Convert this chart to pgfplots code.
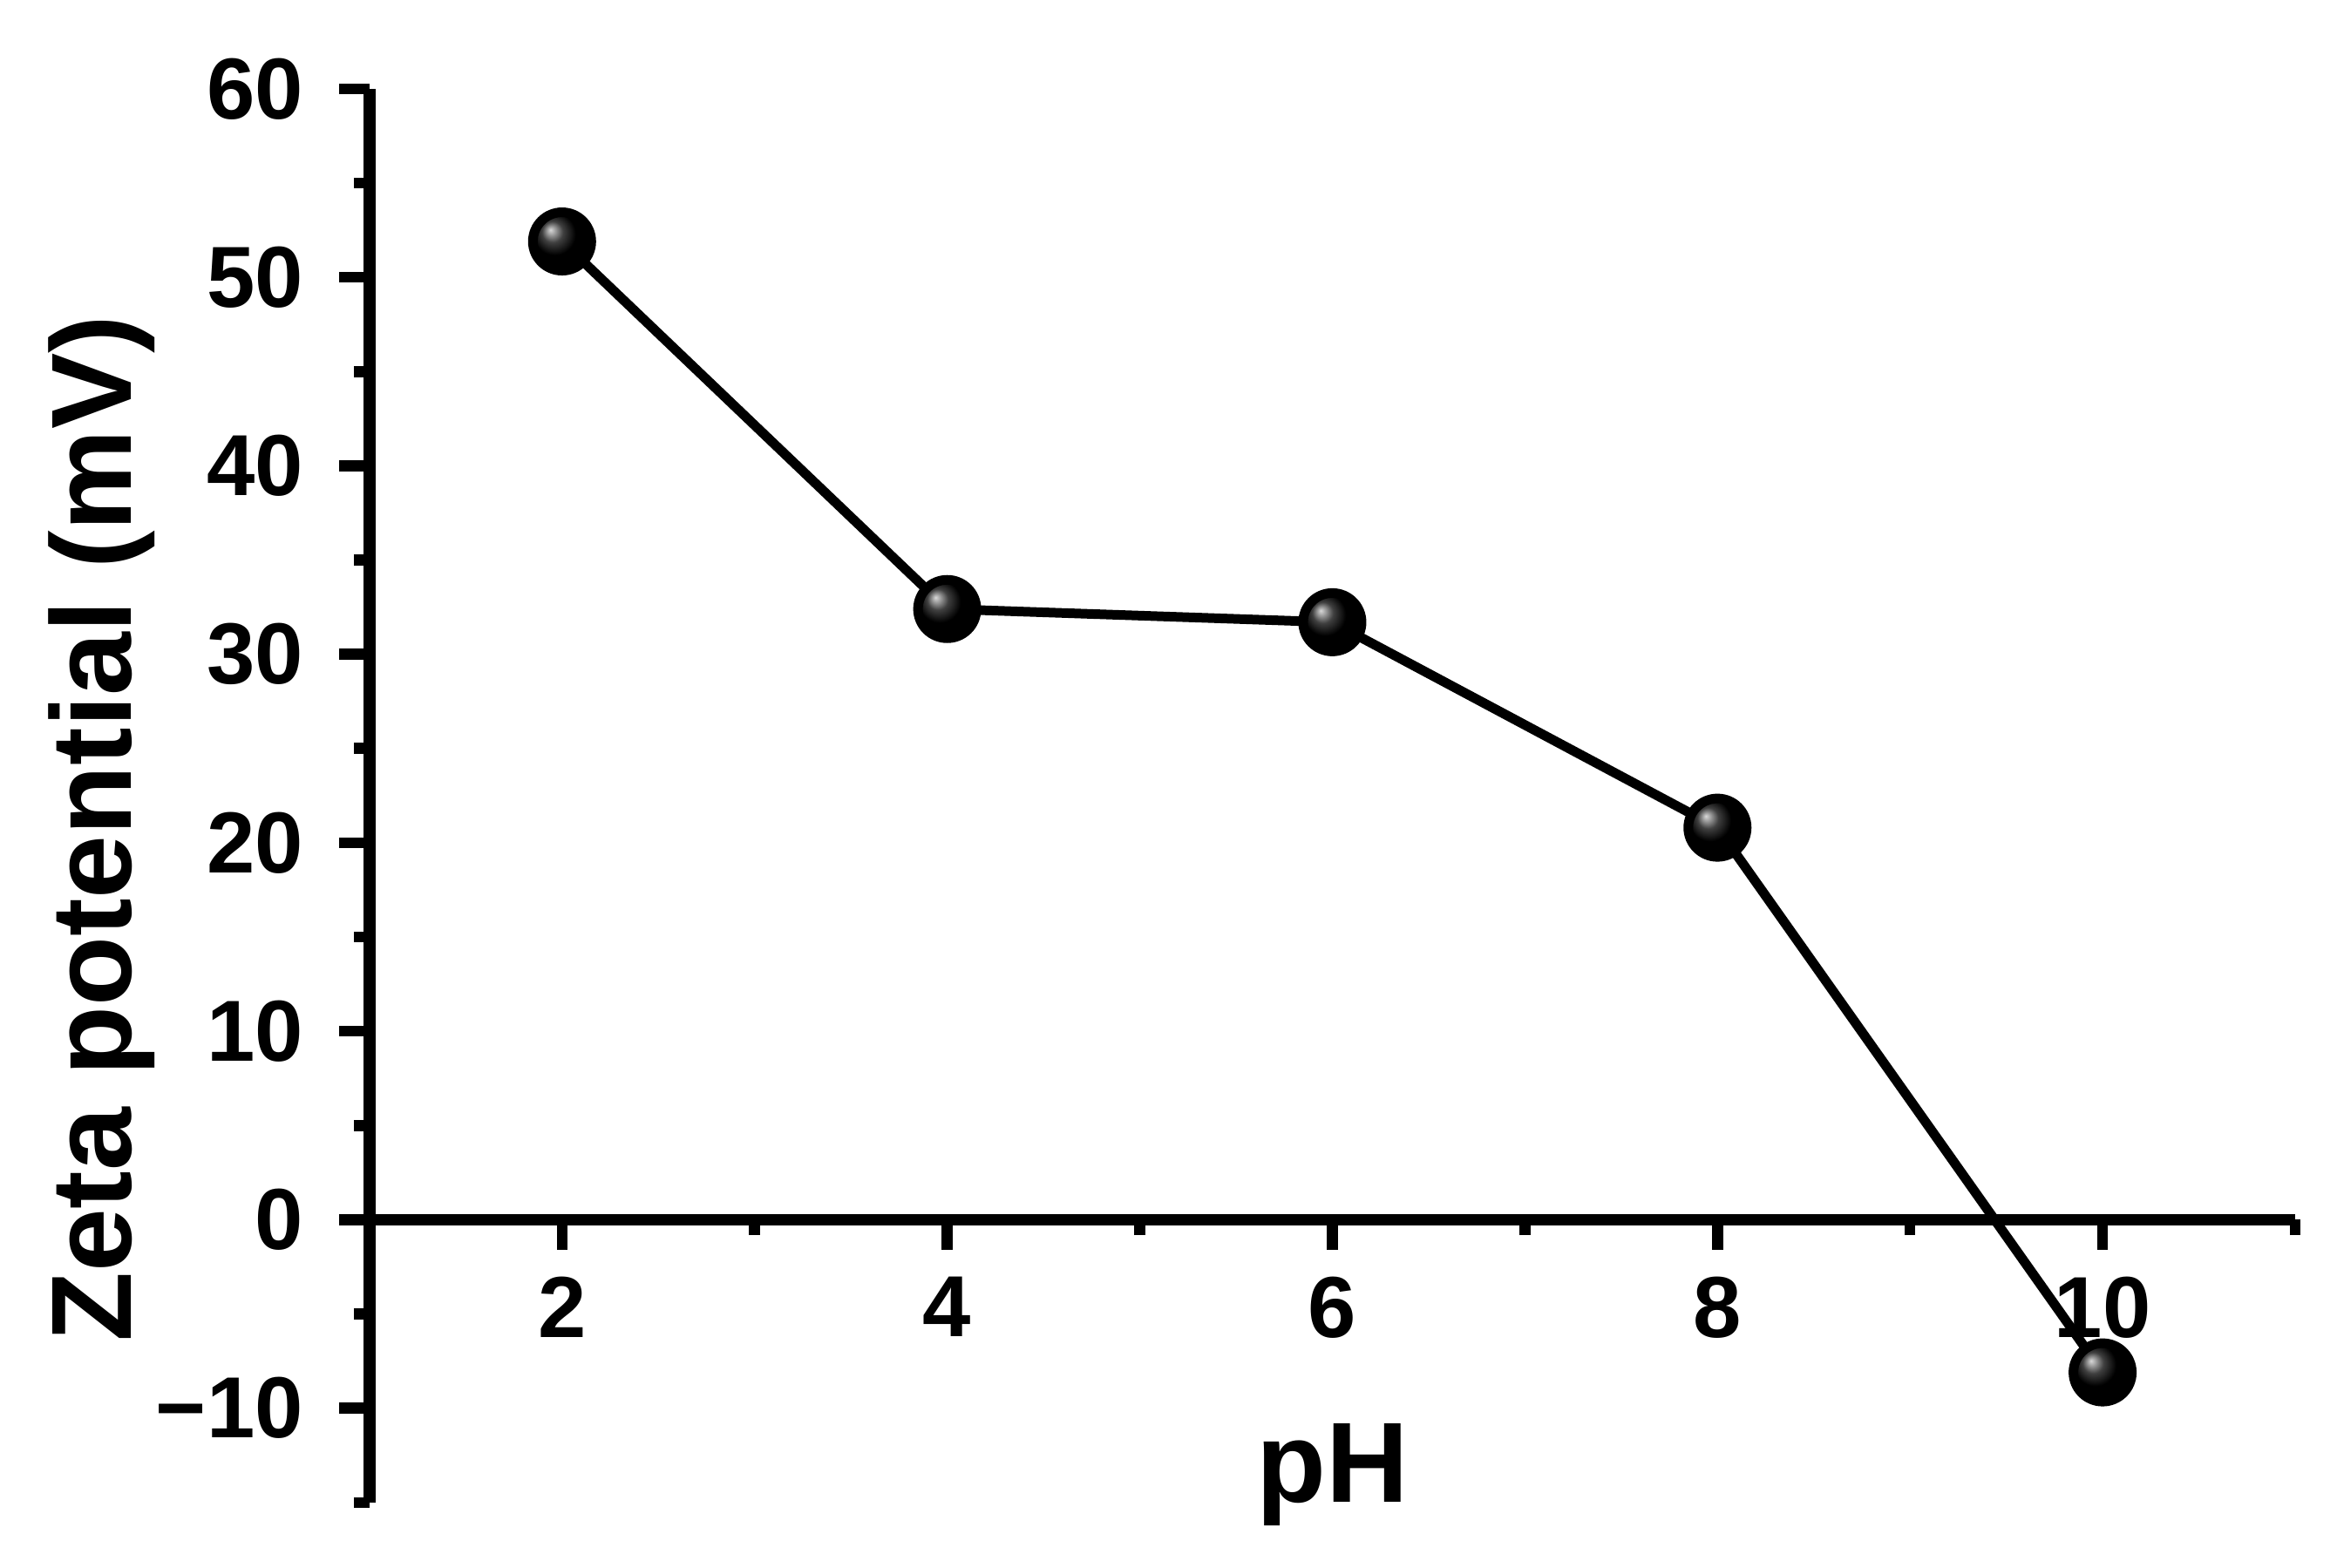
\documentclass[border=0pt]{standalone}
\usepackage{fontspec}
\setmainfont{Liberation Sans}
\usepackage{pgfplots}
\pgfplotsset{compat=1.18}

\begin{document}
\begin{tikzpicture}
\begin{axis}[
    name=ax,
    scale only axis,
    width=7.416cm,
    height=5.445cm,
    xmin=1, xmax=11,
    ymin=-15, ymax=60,
    axis x line*=middle,
    axis y line*=left,
    line width=1.3pt,
    xtick={2,4,6,8,10},
    minor xtick={3,5,7,9,11},
    ytick={-10,0,10,20,30,40,50,60},
    yticklabels={−10,0,10,20,30,40,50,60},
    minor ytick={-15,-5,5,15,25,35,45,55},
    tick align=outside,
    major tick length=3.3pt,
    minor tick length=1.7pt,
    tick style={black, line width=1.2pt},
    axis line style={line width=1.3pt},
    ticklabel style={font=\bfseries\fontsize{9.5}{9.5}\selectfont},
    /pgf/number format/assume math mode=true,
    xticklabel style={yshift=1pt},
    xlabel={pH},
    ylabel={Zeta potential (mV)},
    every axis x label/.style={at={(axis description cs:0.5,0)}, anchor=base,
        font=\bfseries\fontsize{12.5}{12.5}\selectfont},
    every axis y label/.style={at={(axis description cs:-0.1237,0.0877)}, rotate=90, anchor=base west,
        font=\bfseries\fontsize{12.5}{12.5}\selectfont},
    clip=false,
]
\addplot[black, line width=1.05pt, mark=ball, mark size=3.2pt, mark options={ball color=black}]
    coordinates {(2,51.9) (4,32.4) (6,31.7) (8,20.8) (10,-8.1)};
\end{axis}
\pgfresetboundingbox
\path ([shift={(-1.423cm,-0.252cm)}]ax.south west) rectangle ([shift={(0.161cm,0.342cm)}]ax.north east);
\end{tikzpicture}
\end{document}
